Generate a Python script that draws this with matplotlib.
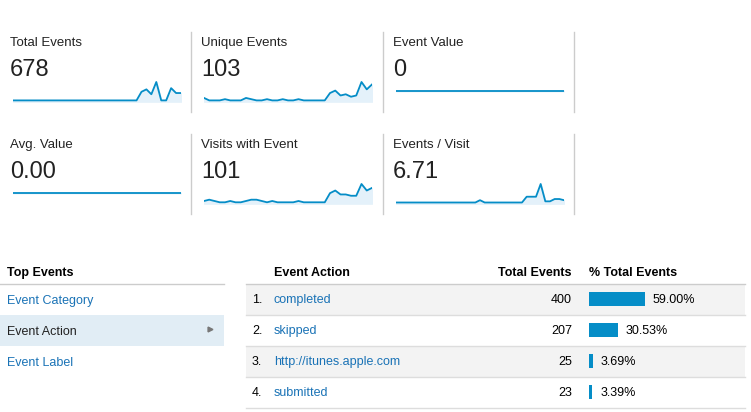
import matplotlib.pyplot as plt
from matplotlib.patches import Rectangle

plt.rcParams["font.family"] = "Liberation Sans"

# Metric tiles
TILE_LABELS = ["Total Events", "Unique Events", "Event Value",
               "Avg. Value", "Visits with Event", "Events / Visit"]
TILE_VALUES = ["678", "103", "0", "0.00", "101", "6.71"]
SPARKS = [
    [1, 1, 1, 1, 1, 1, 1, 1, 1, 1, 1, 1, 1, 1, 1, 1, 1, 1, 1, 1, 1, 1, 1, 1, 1, 1, 8, 10, 6, 16, 1, 1, 11, 7, 7],
    [3, 1, 1, 1, 2, 1, 1, 1, 3, 2, 1, 1, 2, 1, 1, 2, 1, 1, 2, 1, 1, 1, 1, 1, 7, 9, 5, 6, 4, 5, 16, 10, 14],
    [0] * 30,
    [0] * 30,
    [2, 3, 2, 1, 1, 2, 1, 1, 2, 3, 3, 2, 1, 2, 1, 1, 1, 1, 2, 1, 1, 1, 1, 1, 8, 10, 7, 7, 6, 6, 15, 10, 12],
    [1, 1, 1, 1, 1, 1, 1, 1, 1, 1, 1, 1, 1, 1, 1, 1, 1, 1, 3, 1, 1, 1, 1, 1, 1, 1, 1, 1, 6, 6, 6, 17, 2, 2, 4, 4, 3],
]

# Top events table
TOP_EVENTS = ["Event Category", "Event Action", "Event Label"]
ACTIONS = ["completed", "skipped", "http://itunes.apple.com", "submitted"]
TOTALS = [400, 207, 25, 23]
PERCENTS = [59.00, 30.53, 3.69, 3.39]

BLUE = "#058dc7"
LINK = "#1a73b6"
W, H = 751, 412
fig = plt.figure(figsize=(W / 100, H / 100), dpi=100)
ax = fig.add_axes([0, 0, 1, 1])
ax.set_xlim(0, W)
ax.set_ylim(H, 0)
ax.axis("off")

col_x = [10, 201, 393]
row_y = [42, 144]
for i, (lab, val, sp) in enumerate(zip(TILE_LABELS, TILE_VALUES, SPARKS)):
    x0, y0 = col_x[i % 3], row_y[i // 3]
    ax.text(x0, y0 + 1, lab, fontsize=9.5, va="center", color="#222222")
    ax.text(x0, y0 + 28, val, fontsize=17, va="center", color="#222222")
    # sparkline as inset axes
    sx = x0 + 3
    sy = y0 + 39
    sax = fig.add_axes([sx / W, 1 - (sy + 21) / H, 168 / W, 21 / H])
    sax.plot(range(len(sp)), sp, color=BLUE, lw=1.3)
    sax.fill_between(range(len(sp)), sp, 0, color="#e4f1fa")
    sax.set_xlim(0, len(sp) - 1)
    if max(sp) > 0:
        sax.set_ylim(-0.3, max(sp) * 1.05)
    else:
        sax.set_ylim(-1.1, 1)
    sax.axis("off")
for xd in [191, 383, 574]:
    for y0 in [row_y[0] - 10, row_y[1] - 10]:
        ax.plot([xd, xd], [y0, y0 + 80], color="#cccccc", lw=1)

# left table
ax.text(7, 273, "Top Events", fontsize=9, fontweight="bold", va="center")
ax.plot([0, 224], [284, 284], color="#cccccc", lw=1)
ax.add_patch(Rectangle((0, 315), 224, 31, color="#e1edf5", lw=0))
for j, name in enumerate(TOP_EVENTS):
    y = 301 + 31 * j
    ax.text(7, y, name, fontsize=9, va="center",
            color="#222222" if j == 1 else LINK)
ax.plot([210], [329], marker=">", ms=3.5, color="#777777", lw=0)

# right table
ax.text(274, 273, "Event Action", fontsize=9, fontweight="bold", va="center")
ax.text(572, 273, "Total Events", fontsize=9, fontweight="bold", va="center", ha="right")
ax.text(589, 273, "% Total Events", fontsize=9, fontweight="bold", va="center")
ax.plot([246, 745], [284, 284], color="#cccccc", lw=1)
for j, (act, tot, pct) in enumerate(zip(ACTIONS, TOTALS, PERCENTS)):
    y = 299 + 31 * j
    if j % 2 == 0:
        ax.add_patch(Rectangle((246, y - 15), 499, 31, color="#f3f3f3", lw=0))
    ax.plot([246, 745], [y + 16, y + 16], color="#dddddd", lw=1)
    ax.text(252, y + 1, f"{j + 1}.", fontsize=9, va="center")
    ax.text(274, y + 1, act, fontsize=9, va="center", color=LINK)
    ax.text(572, y + 1, str(tot), fontsize=9, va="center", ha="right")
    bw = max(pct * 56 / 59.0, 2.5)
    ax.add_patch(Rectangle((589, y - 7), bw, 14, color=BLUE, lw=0))
    ax.text(589 + bw + 8, y + 1, f"{pct:.2f}%", fontsize=9, va="center")

fig.savefig("out.png", dpi=100)
